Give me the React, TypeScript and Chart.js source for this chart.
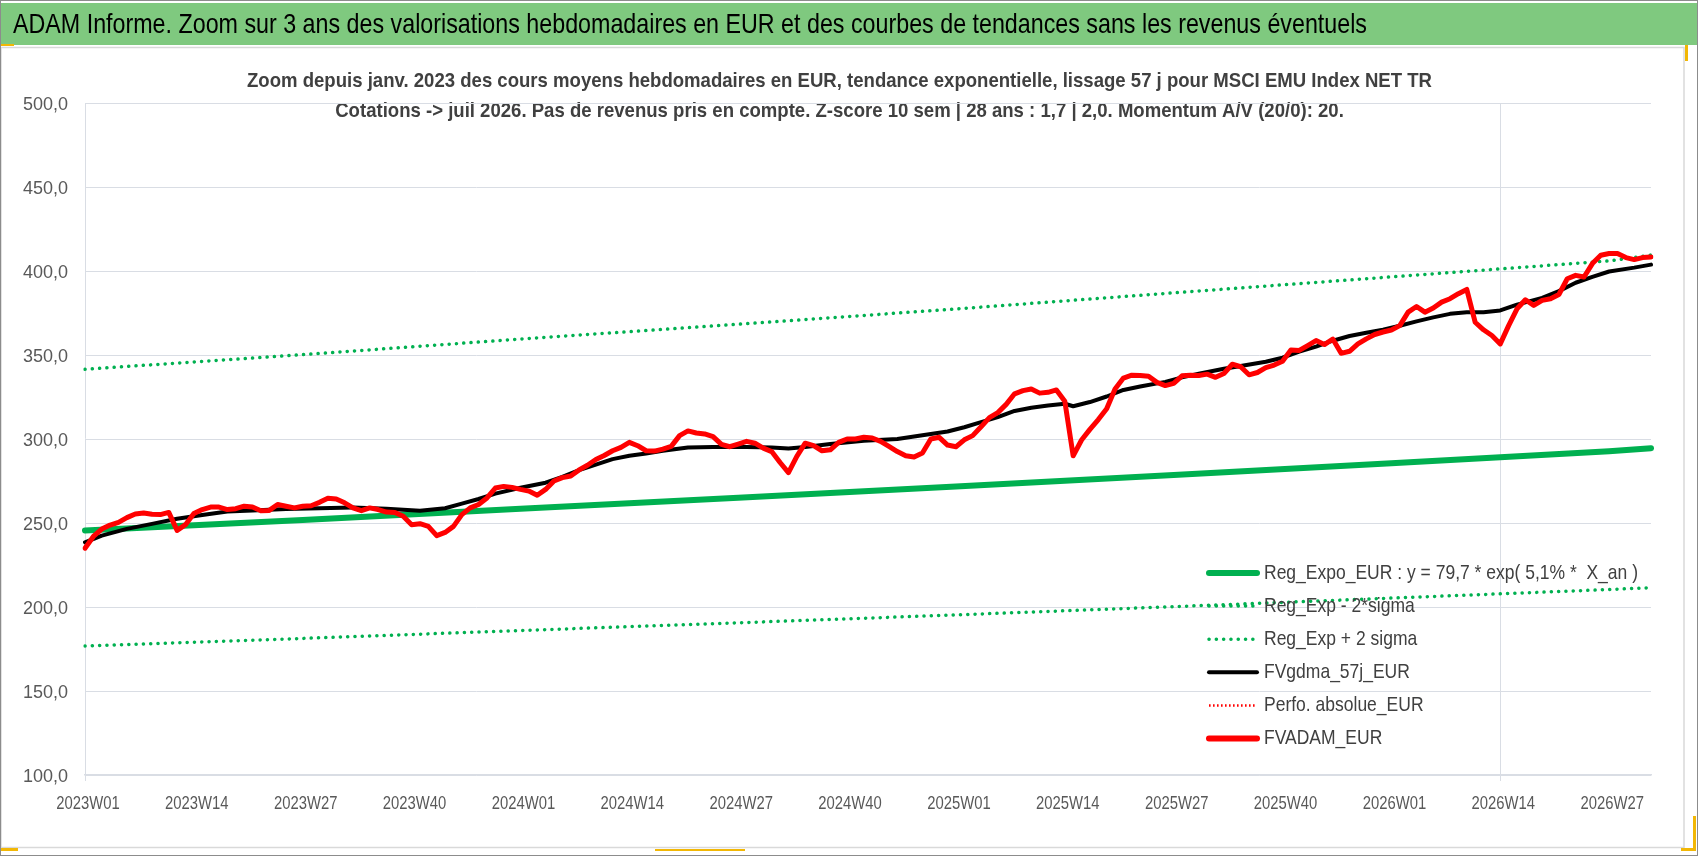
import React, { useEffect, useRef } from 'react';
import { Chart, registerables } from 'chart.js';

Chart.register(...registerables);

// ---------- DATA ----------
const WEEK_COUNTS: [number, number][] = [
  [2023, 52],
  [2024, 52],
  [2025, 52],
  [2026, 32],
];

const X_TICK_LABELS = [
  '2023W01', '2023W14', '2023W27', '2023W40',
  '2024W01', '2024W14', '2024W27', '2024W40',
  '2025W01', '2025W14', '2025W27', '2025W40',
  '2026W01', '2026W14', '2026W27',
];

const Y_MIN = 100;
const Y_MAX = 500;
const Y_STEP = 50;

const HEADER_TITLE =
  'ADAM Informe. Zoom sur 3 ans des valorisations hebdomadaires en EUR et des courbes de tendances sans les revenus éventuels';

const SUBTITLE = [
  'Zoom depuis janv. 2023 des cours moyens hebdomadaires en EUR, tendance exponentielle, lissage 57 j pour MSCI EMU Index NET TR',
  'Cotations -> juil 2026. Pas de revenus pris en compte. Z-score 10 sem | 28 ans : 1,7 | 2,0. Momentum A/V (20/0): 20.',
];

const SERIES_LABELS = [
  'Reg_Expo_EUR : y = 79,7 * exp( 5,1% *  X_an )',
  'Reg_Exp - 2*sigma',
  'Reg_Exp + 2 sigma',
  'FVgdma_57j_EUR',
  'Perfo. absolue_EUR',
  'FVADAM_EUR',
];

// weekly values (one per week, 2023W01 .. 2026W32)
const FVADAM_EUR = [
  235, 242, 246.4, 248.8, 250.4, 253.2, 255.4, 256, 255.2, 255,
  256.3, 245.6, 249, 255.6, 258, 259.5, 259.5, 258, 258.5, 260,
  259.5, 257.3, 257.5, 261, 260, 259, 260, 260.3, 262.3, 264.7,
  264.3, 262, 259, 257.3, 259, 258, 256.5, 256.3, 254, 249,
  249.6, 248, 242.5, 244.4, 248, 255, 259, 261, 264.9, 270.8,
  271.8, 271.2, 270, 269, 266.5, 270, 275, 277, 278, 281.6,
  284.4, 287.8, 290.2, 293, 295, 298, 296, 293, 292.8, 294,
  295.6, 302, 304.8, 303.6, 303, 301.4, 296.8, 295.4, 297, 298.6,
  297.5, 294.6, 292.5, 286, 280, 289.7, 297.5, 296, 293, 293.6,
  298, 300, 300, 301, 300.6, 298.6, 295.6, 292.5, 290, 289.3,
  291.7, 300, 301, 296.4, 295.4, 299.5, 302, 307.3, 312.7, 315.7,
  320.6, 326.9, 328.8, 329.8, 327.3, 327.8, 329.2, 322.5, 290, 299.4,
  305.7, 311.6, 318, 329.8, 336.3, 338, 337.8, 337.3, 333.7, 331.8,
  333.1, 337.6, 338, 337.8, 338.6, 336.7, 339, 344.5, 343, 338.2,
  339.6, 342.5, 344, 346.3, 353, 352.7, 355.6, 358.6, 356.2, 359.5,
  351, 352.2, 356.6, 359.6, 362.2, 363.7, 364.9, 367.5, 375.5, 378.9,
  375.5, 378, 381.5, 383.5, 386.5, 389, 369.5, 365, 361.6, 356.6,
  367.5, 377.5, 382.9, 379.5, 382.5, 383.5, 386, 395.4, 397.4, 396.4,
  404.4, 409.4, 410.4, 410.4, 408, 406.8, 408, 408.4,
];

// [week index, value] readings; the line is drawn straight between them
const FVGDMA_57J_EUR: [number, number][] = [
  [0, 238.5], [2, 242.5], [5, 246.5], [8, 249.5], [11, 252.5], [14, 254.8],
  [17, 256.8], [20, 257.5], [24, 258.3], [28, 258.8], [32, 259.3], [36, 258.5],
  [40, 257.3], [43, 258.8], [45, 261.5], [47, 264.3], [49, 267.5], [52, 271],
  [55, 274], [57, 277.5], [59, 281.5], [63, 288], [65, 290], [67, 291.4],
  [69, 293], [72, 295], [75, 295.2], [79, 295.2], [82, 295], [84, 294.3],
  [86, 295.2], [89, 297], [93, 299], [97, 300], [101, 303], [103, 304.5],
  [105, 307], [107, 310], [109, 313], [111, 316.7], [113, 318.6],
  [115, 320], [117, 321], [118, 319.5], [120, 322], [122, 325.3], [124, 329.2],
  [126, 331.2], [129, 334], [131, 336.7], [133, 338.8], [136, 341.8], [138, 343.5],
  [141, 346], [143, 348.4], [145, 352], [147, 355], [149, 358.5], [151, 361.3],
  [153, 363.2], [155, 365], [157, 367.4], [159, 370], [161, 372.4], [163, 374.5],
  [165, 375.5], [167, 375.5], [169, 376.5], [171, 380], [174, 384], [176, 388],
  [178, 393], [180, 396.5], [182, 399.7], [185, 402], [187, 403.8],
];

const REG_EXPO_EUR: [number, number][] = [
  [0, 245.6], [26, 251.8], [52, 258.5], [78, 265.0], [104, 271.7],
  [130, 278.6], [156, 285.5], [182, 292.7], [187, 294.5],
];

const REG_EXP_PLUS_2S: [number, number][] = [
  [0, 341.5], [26, 350.2], [52, 359.5], [78, 368.3], [104, 377.4],
  [130, 387.0], [156, 396.5], [182, 406.0], [187, 409.5],
];

const REG_EXP_MINUS_2S: [number, number][] = [
  [0, 176.8], [26, 181.3], [52, 186.0], [78, 190.6], [104, 195.3],
  [130, 200.2], [156, 205.3], [182, 210.4], [187, 211.5],
];

// ---------- BUILD ----------
const CATEGORIES: string[] = [];
WEEK_COUNTS.forEach(([y, n]) => {
  for (let w = 1; w <= n; w++) CATEGORIES.push(`${y}W${String(w).padStart(2, '0')}`);
});
const N = CATEGORIES.length;

function fromPoints(points: [number, number][]): (number | null)[] {
  const arr: (number | null)[] = new Array(N).fill(null);
  points.forEach(([i, v]) => {
    arr[i] = v;
  });
  return arr;
}

const FONT = "'Liberation Sans', Arial, sans-serif";
const GRID = '#D9DDE4';
const AXIS_TEXT = '#595959';
const LEGEND_TEXT = '#404040';
const GREEN = '#00B050';
const RED = '#FF0000';

// horizontal squeeze factor so that a reference string fits a given width
function fitScale(ctx: CanvasRenderingContext2D, font: string, ref: string, width: number) {
  ctx.save();
  ctx.font = font;
  const w = ctx.measureText(ref).width;
  ctx.restore();
  return w > 0 ? width / w : 1;
}

function drawSqueezed(
  ctx: CanvasRenderingContext2D,
  text: string,
  x: number,
  y: number,
  font: string,
  sx: number,
  align: CanvasTextAlign,
  color: string
) {
  ctx.save();
  ctx.font = font;
  ctx.fillStyle = color;
  ctx.textAlign = align;
  ctx.textBaseline = 'middle';
  ctx.translate(x, y);
  ctx.scale(sx, 1);
  ctx.fillText(text, 0, 0);
  ctx.restore();
}

const framePlugin = {
  id: 'frame',
  beforeDraw(chart: any) {
    const ctx = chart.ctx as CanvasRenderingContext2D;
    const W = chart.width;
    const H = chart.height;
    ctx.save();
    ctx.fillStyle = '#FFFFFF';
    ctx.fillRect(0, 0, W, H);
    // inner chart box
    ctx.strokeStyle = '#D9D9D9';
    ctx.lineWidth = 1.5;
    ctx.strokeRect(1, 47.5, 1683, 800);
    // header band
    ctx.fillStyle = '#7FC97F';
    ctx.fillRect(1, 3, W - 2, 42);
    // outer frame
    ctx.strokeStyle = '#8C8C8C';
    ctx.lineWidth = 1;
    ctx.strokeRect(0.5, 0.5, W - 1, H - 1);
    // selection handles
    ctx.fillStyle = '#F2B705';
    ctx.fillRect(1, 44, 13, 2);
    ctx.fillRect(1685, 45, 3, 16);
    ctx.fillRect(1, 848, 17, 3);
    ctx.fillRect(655, 849, 90, 2);
    ctx.fillRect(1693, 816, 3, 35);
    ctx.fillRect(1681, 848, 15, 3);
    ctx.restore();

    // header title
    const hFont = `28px ${FONT}`;
    const hs = fitScale(ctx, hFont, HEADER_TITLE, 1354);
    drawSqueezed(ctx, HEADER_TITLE, 13, 25, hFont, hs, 'left', '#000000');

    // subtitle
    const sFont = `bold 21px ${FONT}`;
    const ss = fitScale(ctx, sFont, SUBTITLE[0], 1185);
    SUBTITLE.forEach((t, k) => drawSqueezed(ctx, t, 839.5, 81.5 + k * 29.5, sFont, ss, 'center', '#404040'));
  },
  afterDraw(chart: any) {
    const ctx = chart.ctx as CanvasRenderingContext2D;
    // x tick labels placed by the category scale
    const xs = chart.scales.x;
    const xFont = `18.5px ${FONT}`;
    const xsx = fitScale(ctx, xFont, X_TICK_LABELS[0], 63.5);
    X_TICK_LABELS.forEach((lab) => {
      const idx = CATEGORIES.indexOf(lab);
      if (idx < 0) return;
      const px = xs.getPixelForValue(idx);
      drawSqueezed(ctx, lab, px + 3, 803.5, xFont, xsx, 'center', AXIS_TEXT);
    });
  },
  afterDatasetsDraw(chart: any) {
    const ctx = chart.ctx as CanvasRenderingContext2D;
    const datasets = chart.data.datasets;
    const x0 = 1209;
    const x1 = 1257;
    const tx = 1264;
    const y0 = 573;
    const dy = 33.1;
    const lFont = `21px ${FONT}`;
    const lsx = fitScale(ctx, lFont, datasets[0].label, 374);
    datasets.forEach((ds: any, k: number) => {
      const y = y0 + k * dy;
      ctx.save();
      ctx.beginPath();
      ctx.strokeStyle = ds.borderColor;
      ctx.lineWidth = ds.legendWidth || ds.borderWidth;
      ctx.lineCap = ds.borderCapStyle || 'butt';
      ctx.setLineDash(ds.borderDash || []);
      ctx.moveTo(x0, y);
      ctx.lineTo(x1, y);
      ctx.stroke();
      ctx.restore();
      drawSqueezed(ctx, ds.label, tx, y, lFont, lsx, 'left', LEGEND_TEXT);
    });
  },
};

export default function App() {
  const canvasRef = useRef<HTMLCanvasElement | null>(null);

  useEffect(() => {
    document.body.style.margin = '0';
    const canvas = canvasRef.current;
    if (!canvas) return;
    const chart = new Chart(canvas, {
      type: 'line',
      data: {
        labels: CATEGORIES,
        datasets: [
          {
            label: SERIES_LABELS[0],
            data: fromPoints(REG_EXPO_EUR),
            borderColor: GREEN,
            borderWidth: 6,
            borderCapStyle: 'round',
            legendWidth: 6,
            spanGaps: true,
            order: 2,
          } as any,
          {
            label: SERIES_LABELS[1],
            data: fromPoints(REG_EXP_MINUS_2S),
            borderColor: GREEN,
            borderWidth: 3.5,
            borderDash: [0.1, 7.2],
            borderCapStyle: 'round',
            spanGaps: true,
            order: 3,
          } as any,
          {
            label: SERIES_LABELS[2],
            data: fromPoints(REG_EXP_PLUS_2S),
            borderColor: GREEN,
            borderWidth: 3.5,
            borderDash: [0.1, 7.2],
            borderCapStyle: 'round',
            spanGaps: true,
            order: 3,
          } as any,
          {
            label: SERIES_LABELS[3],
            data: fromPoints(FVGDMA_57J_EUR),
            borderColor: '#000000',
            borderWidth: 4,
            borderJoinStyle: 'round',
            borderCapStyle: 'round',
            spanGaps: true,
            order: 1,
          } as any,
          {
            label: SERIES_LABELS[4],
            data: new Array(N).fill(null),
            borderColor: RED,
            borderWidth: 2.5,
            borderDash: [1.6, 2.4],
            order: 4,
          } as any,
          {
            label: SERIES_LABELS[5],
            data: FVADAM_EUR,
            borderColor: RED,
            borderWidth: 5,
            borderJoinStyle: 'round',
            borderCapStyle: 'round',
            legendWidth: 6,
            order: 0,
          } as any,
        ],
      },
      options: {
        responsive: false,
        animation: false,
        devicePixelRatio: 1,
        layout: { padding: { top: 103, right: 47, bottom: 0, left: 0 } },
        elements: { point: { radius: 0 }, line: { tension: 0 } },
        plugins: {
          legend: { display: false },
          title: { display: false },
          tooltip: { enabled: false },
        },
        scales: {
          x: {
            type: 'category',
            offset: false,
            grid: {
              color: (c: any) =>
                X_TICK_LABELS.includes(CATEGORIES[c.index]) ? GRID : 'rgba(0,0,0,0)',
              tickLength: 6,
              lineWidth: 1,
            },
            border: { color: GRID, width: 1.5 },
            ticks: {
              autoSkip: false,
              maxRotation: 0,
              minRotation: 0,
              padding: 11,
              color: 'rgba(0,0,0,0)',
              font: { family: FONT, size: 18 },
              callback: (_v: any, i: number) =>
                X_TICK_LABELS.includes(CATEGORIES[i]) ? CATEGORIES[i] : null,
            },
            afterFit: (s: any) => {
              s.height = 81;
            },
          },
          y: {
            min: Y_MIN,
            max: Y_MAX,
            grid: { color: GRID, drawTicks: false, lineWidth: 1 },
            border: { display: false },
            ticks: {
              stepSize: Y_STEP,
              padding: 17,
              labelOffset: 2,
              color: AXIS_TEXT,
              font: { family: FONT, size: 18 },
              callback: (v: any) => Number(v).toFixed(1).replace('.', ','),
            },
            afterFit: (s: any) => {
              s.width = 85;
            },
          },
        },
      } as any,
      plugins: [framePlugin],
    });
    return () => chart.destroy();
  }, []);

  return (
    <div style={{ position: 'relative', width: 1698, height: 856, overflow: 'hidden' }}>
      <canvas ref={canvasRef} width={1698} height={856} style={{ display: 'block', width: 1698, height: 856 }} />
    </div>
  );
}
